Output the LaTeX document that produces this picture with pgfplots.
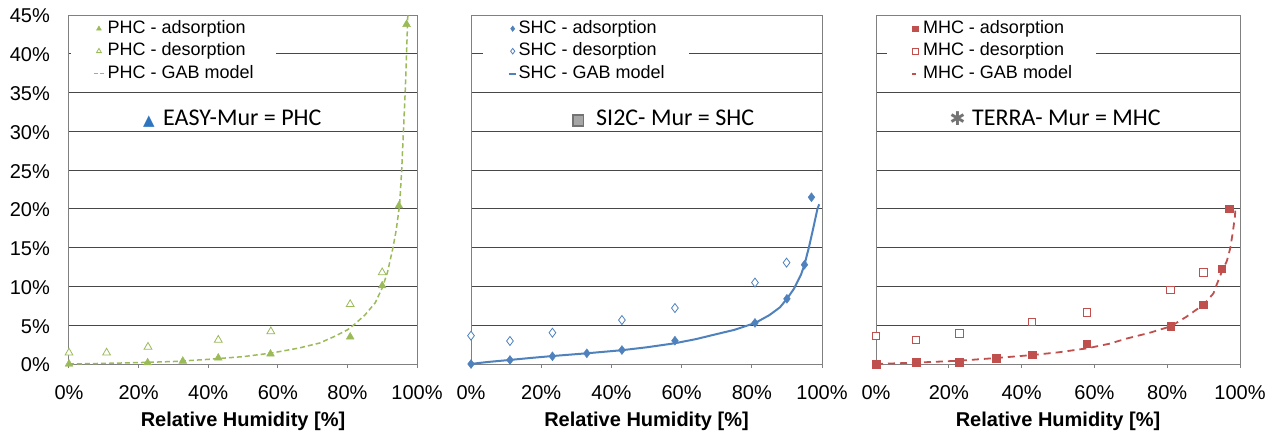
\documentclass[border=0pt]{standalone}
\usepackage{pgfplots}
\pgfplotsset{compat=1.18}
\usepackage{fontspec}
\setmainfont{Liberation Sans}
\newfontfamily\carlito{Carlito}
\newfontfamily\dejavu{DejaVu Sans}
\definecolor{cgreen}{HTML}{9BBB59}
\definecolor{cblue}{HTML}{4F81BD}
\definecolor{cred}{HTML}{C0504D}
\definecolor{iconblue}{HTML}{2E75C0}
\pgfplotsset{
 panel/.style={
  scale only axis, height=349pt,
  xmin=0,xmax=100,ymin=0,ymax=45,
  xtick={0,20,40,60,80,100},
  xticklabels={0\%,20\%,40\%,60\%,80\%,100\%},
  ytick={0,5,...,45},
  ymajorgrids, major grid style={draw=black!72, line width=0.9pt},
  axis line style={draw=black!50, line width=1pt},
  tick pos=left, xtick align=outside, major tick length=4pt,
  xtick style={draw=black!50, line width=1pt},
  ytick style={draw=none},
  tick label style={font=\fontsize{20}{24}\selectfont},
  /pgf/number format/assume math mode=true,
  xticklabel style={anchor=north, inner sep=0pt, yshift=-17pt},
  yticklabel style={anchor=east, inner sep=0pt, xshift=-19pt, yshift=-1pt},
  xlabel={Relative Humidity [\%]},
  xlabel style={font=\fontsize{20}{24}\selectfont\bfseries, at={(axis description cs:0.5,0)}, anchor=north, inner sep=0pt, yshift=-48pt},
  legend cell align=left,
  legend style={at={(axis description cs:0,1)}, anchor=north west, yshift=-2pt,
    draw=none, fill=white, inner ysep=3pt,
    font=\fontsize{18}{20}\selectfont, row sep=5.5pt, column sep=2pt,
    nodes={inner sep=0pt, text height=13pt, text depth=4pt}},
 },
 legmark/.style={legend image code/.code={\draw[mark repeat=2,mark phase=2,##1,mark size=2.8pt] plot coordinates {(0pt,0pt)(4pt,0pt)(8pt,0pt)};}},
 legA/.style={legend image code/.code={\draw[##1, dash pattern=on 4pt off 2pt] (-1pt,0pt) -- (10pt,0pt);}},
 legB/.style={legend image code/.code={\draw[##1] (0pt,0pt) -- (7pt,0pt);}},
 legC/.style={legend image code/.code={\draw[##1, dash pattern=on 4pt off 6pt] (1pt,0pt) -- (9pt,0pt);}},
}
\begin{document}
\begin{tikzpicture}[x=1pt,y=1pt]
\path[use as bounding box] (0,0) rectangle (1276,432);
% ---------------- Panel 1 ----------------
\begin{axis}[panel, at={(69pt,68pt)}, anchor=south west, width=348pt,
  yticklabels={0\%,5\%,10\%,15\%,20\%,25\%,30\%,35\%,40\%,45\%},
  legend style={xshift=2pt, inner xsep=22pt}]
\addplot[only marks, mark=triangle*, mark size=4.5pt, color=cgreen, legmark] coordinates {
(0,0) (22.6,0.17) (32.7,0.38) (42.9,0.78) (57.9,1.3) (80.8,3.5) (90,10.1) (94.8,20.4) (97,43.8)};
\addlegendentry{PHC - adsorption}
\addplot[only marks, mark=triangle*, mark size=4.5pt, color=cgreen, mark options={fill=white, line width=0.8pt}, legmark] coordinates {
(0,1.45) (10.8,1.45) (22.7,2.2) (42.9,3.1) (58,4.2) (80.8,7.7) (90,11.8)};
\addlegendentry{PHC - desorption\hspace*{6pt}}
\addplot[color=cgreen, line width=1.5pt, dash pattern=on 5pt off 3pt, legA] coordinates {
(0,0) (10,0.08) (20,0.18) (30,0.32) (40,0.6) (50,0.95) (58,1.4) (66,2.05) (72,2.7) (76,3.5) (80,4.4) (82,5.1) (85,6.3) (88,7.9) (90,9.8) (91.5,11.8) (93,14.8) (94,17.2) (95,20.5) (95.6,25) (96.1,30) (96.6,35) (97.0,40) (97.4,45.5)};
\addlegendentry{PHC - GAB model}
\end{axis}
% ---------------- Panel 2 ----------------
\begin{axis}[panel, at={(471pt,68pt)}, anchor=south west, width=351pt,
  yticklabels={},
  legend style={xshift=12pt, inner xsep=24.5pt}]
\addplot[only marks, mark=diamond*, mark size=4.5pt, color=cblue, legmark] coordinates {
(0,0) (11.1,0.52) (23.2,0.99) (33,1.38) (43,1.8) (58.1,3.0) (80.9,5.3) (90,8.4) (95,12.8) (97,21.5)};
\addlegendentry{SHC - adsorption}
\addplot[only marks, mark=diamond*, mark size=4.5pt, color=cblue, mark options={fill=white, line width=0.8pt}, legmark] coordinates {
(0,3.65) (11.1,2.97) (23.2,4.04) (43,5.67) (58.1,7.22) (80.9,10.5) (89.9,13.07)};
\addlegendentry{SHC - desorption\hspace*{8pt}}
\addplot[color=cblue, line width=2pt, legB] coordinates {
(0,0) (2,0.12) (5,0.27) (11,0.52) (17,0.78) (23,1.02) (33,1.38) (43,1.78) (50,2.15) (58,2.67) (64,3.2) (69,3.75) (75,4.4) (81,5.3) (85,6.3) (88,7.3) (90,8.4) (92,9.7) (94,11.5) (95,12.8) (96.3,15.1) (97.5,17.5) (98.7,20) (99.2,20.6)};
\addlegendentry{SHC - GAB model}
\end{axis}
% ---------------- Panel 3 ----------------
\begin{axis}[panel, at={(876pt,68pt)}, anchor=south west, width=364pt,
  yticklabels={},
  legend style={xshift=11pt, inner xsep=24pt}]
\addplot[only marks, mark=square*, mark size=3.7pt, color=cred, legmark] coordinates {
(0,0) (11,0.21) (22.9,0.24) (33,0.73) (42.9,1.2) (57.9,2.6) (80.9,4.86) (89.9,7.65) (94.9,12.25) (97,20.0)};
\addlegendentry{MHC - adsorption}
\addplot[only marks, mark=square*, mark size=3.7pt, color=cred, mark options={fill=white, line width=0.8pt}, legmark] coordinates {
(0,3.6) (11,3.1) (22.9,3.96) (42.9,5.42) (57.9,6.67) (80.9,9.55) (89.9,11.83)};
\addlegendentry{MHC - desorption\hspace*{6pt}}
\addplot[color=cred, line width=1.8pt, dash pattern=on 7pt off 5pt, legC] coordinates {
(0,0) (5,0.08) (11,0.18) (17,0.3) (23,0.43) (33,0.77) (43,1.16) (50,1.5) (58,2.02) (64,2.6) (69,3.3) (75,4.0) (81,4.86) (85.3,6.1) (88,7.0) (90,7.65) (92.7,9.1) (93.4,10) (95,11.9) (96.4,13.3) (97.3,14.9) (98,16.9) (98.6,19) (98.8,20.4)};
\addlegendentry{MHC - GAB model}
\end{axis}
% ---------------- annotations ----------------
\node[anchor=base, inner sep=0pt, text=iconblue] at (149,307) {\dejavu\fontsize{15}{15}\selectfont ▲};
\node[anchor=base west, inner sep=0pt] at (163,307) {\carlito\fontsize{24}{28}\selectfont EASY-Mur = PHC};
\node[anchor=center, inner sep=0pt] at (578,311.5) {\setlength{\fboxsep}{0pt}\setlength{\fboxrule}{1.6pt}\fcolorbox{black!55}{black!35}{\rule{0pt}{9pt}\rule{9pt}{0pt}}};
\node[anchor=base west, inner sep=0pt] at (596,307) {\carlito\fontsize{24}{28}\selectfont SI2C- Mur = SHC};
\node[anchor=center, inner sep=0pt, text=black!55] at (957.5,313.7) {\dejavu\fontsize{19}{19}\selectfont ✱};
\node[anchor=base west, inner sep=0pt] at (972,307) {\carlito\fontsize{24}{28}\selectfont TERRA- Mur = MHC};
\end{tikzpicture}
\end{document}
